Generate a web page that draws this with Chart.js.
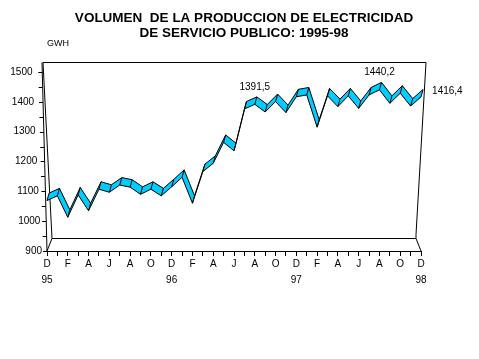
<!DOCTYPE html>
<html>
<head>
<meta charset="utf-8">
<script src="https://cdn.jsdelivr.net/npm/chart.js@4.4.1/dist/chart.umd.min.js"></script>
<style>
  html, body { margin: 0; padding: 0; background: #fff; }
</style>
</head>
<body>
<canvas id="chart" width="479" height="359"></canvas>
<script>
// monthly series, Dec to Dec
const months = ['D','E','F','M','A','M','J','J','A','S','O','N',
                'D','E','F','M','A','M','J','J','A','S','O','N',
                'D','E','F','M','A','M','J','J','A','S','O','N','D'];
const years = ['95', '96', '97', '98'];
const gwh = [1069, 1085, 1013, 1088, 1035, 1107, 1097, 1121, 1114, 1090, 1107, 1085,
             1115, 1147, 1060, 1166, 1194, 1264, 1236, 1376, 1391.5, 1366, 1401, 1364,
             1417, 1423, 1315, 1420, 1384, 1420, 1378, 1423, 1440.2, 1395, 1429, 1386, 1416.4];
const labelled = [20, 32, 36];
const yTicks = [900, 1000, 1100, 1200, 1300, 1400, 1500];

// ribbon depth (3d look): back edge sits higher and a bit to the right
const DEPTH_X = 0.2;
const DEPTH_Y = 25;
const RIBBON = '#00ccff';

Chart.defaults.font.family = 'Liberation Sans, Arial, sans-serif';
Chart.defaults.color = '#000';

const frame3d = {
  id: 'frame3d',
  beforeDatasetsDraw(chart) {
    const {ctx, chartArea: a, scales: {y}} = chart;
    const L = a.left, R = a.right, T = a.top, B = a.bottom;
    const topY = Math.round(T - 10) + 0.5, floorY = Math.round(B - 13) + 0.5;
    const xAt = yy => L - 5 * (B - yy) / (B - topY);
    ctx.save();
    ctx.strokeStyle = '#000';
    ctx.lineWidth = 1;
    ctx.beginPath();
    ctx.moveTo(L - 4, topY); ctx.lineTo(R + 5, topY); ctx.lineTo(R - 5, floorY - 4);
    ctx.lineTo(R - 5, floorY); ctx.lineTo(R, B);
    ctx.moveTo(L + 5, floorY); ctx.lineTo(R - 5, floorY);
    ctx.moveTo(L - 4, topY); ctx.lineTo(L + 5, floorY); ctx.lineTo(L, B);
    ctx.moveTo(L - 5, topY); ctx.lineTo(L, B);
    for (let v = y.min; v <= y.max; v += 50) {
      const yy = Math.round(y.getPixelForValue(v)) + 0.5;
      const x0 = xAt(yy);
      ctx.moveTo(x0 - 4, yy); ctx.lineTo(x0, yy);
    }
    ctx.stroke();

    ctx.font = '10px Liberation Sans, Arial, sans-serif';
    ctx.fillStyle = '#000';
    ctx.textAlign = 'right';
    ctx.textBaseline = 'middle';
    yTicks.forEach(v => {
      const yy = y.getPixelForValue(v);
      ctx.fillText(String(v), L - 5 - 10 * (B - yy) / (B - topY), yy);
    });
    ctx.textAlign = 'left';
    ctx.font = '9px Liberation Sans, Arial, sans-serif';
    ctx.fillText('GWH', L, T - 28);

    // ribbon faces between the front and back edges
    const front = chart.getDatasetMeta(0).data;
    const back = chart.getDatasetMeta(1).data;
    ctx.fillStyle = RIBBON;
    for (let i = 0; i < front.length - 1; i++) {
      ctx.beginPath();
      ctx.moveTo(front[i].x, front[i].y);
      ctx.lineTo(front[i + 1].x, front[i + 1].y);
      ctx.lineTo(back[i + 1].x, back[i + 1].y);
      ctx.lineTo(back[i].x, back[i].y);
      ctx.closePath();
      ctx.fill();
    }
    ctx.restore();
  },
  afterDatasetsDraw(chart) {
    const {ctx} = chart;
    const front = chart.getDatasetMeta(0).data;
    const back = chart.getDatasetMeta(1).data;
    ctx.save();
    ctx.strokeStyle = '#000';
    ctx.lineWidth = 1;
    ctx.beginPath();
    front.forEach((p, i) => {
      ctx.moveTo(p.x, p.y);
      ctx.lineTo(back[i].x, back[i].y);
    });
    ctx.stroke();

    ctx.font = '10px Liberation Sans, Arial, sans-serif';
    ctx.fillStyle = '#000';
    ctx.textBaseline = 'middle';
    labelled.forEach(i => {
      const txt = gwh[i].toFixed(1).replace('.', ',');
      if (i === gwh.length - 1) {
        ctx.textAlign = 'left';
        ctx.fillText(txt, back[i].x + 9, back[i].y + 2);
      } else {
        ctx.textAlign = 'center';
        ctx.fillText(txt, front[i].x, back[i].y - 10);
      }
    });
    ctx.restore();
  }
};

const last = months.length - 1;
const hiddenAxis = {
  display: true,
  min: 900,
  max: 1500,
  ticks: { display: false },
  grid: { display: false },
  border: { display: false }
};

new Chart(document.getElementById('chart'), {
  type: 'line',
  data: {
    datasets: [
      {
        label: 'front',
        data: gwh.map((v, i) => ({x: i, y: v})),
        borderColor: '#000',
        borderWidth: 1,
        pointRadius: 0,
        tension: 0,
        fill: false,
        clip: false
      },
      {
        label: 'back',
        data: gwh.map((v, i) => ({x: i + DEPTH_X, y: v + DEPTH_Y})),
        borderColor: '#000',
        borderWidth: 1,
        pointRadius: 0,
        tension: 0,
        fill: false,
        clip: false
      }
    ]
  },
  options: {
    responsive: false,
    animation: false,
    layout: { padding: { left: 9, right: 0, top: 0, bottom: 0 } },
    plugins: {
      legend: { display: false },
      tooltip: { enabled: false },
      title: {
        display: true,
        text: ['VOLUMEN  DE LA PRODUCCION DE ELECTRICIDAD', 'DE SERVICIO PUBLICO: 1995-98'],
        font: { size: 13.5, weight: 'bold', lineHeight: 1.17 },
        color: '#000',
        padding: { top: 10, bottom: 30.4 }
      }
    },
    scales: {
      x: {
        type: 'linear',
        min: 0,
        max: last,
        afterFit: s => { s.height = 108; },
        border: { display: true, color: '#000' },
        grid: { drawOnChartArea: false, drawTicks: true, tickLength: 5, color: '#000' },
        ticks: {
          stepSize: 1,
          maxTicksLimit: 100,
          autoSkip: false,
          maxRotation: 0,
          padding: 0,
          font: { size: 10, lineHeight: 1.6 },
          callback: v => {
            if (v % 2 !== 0) return '';
            if (v % 12 === 0) return [months[v], years[v / 12]];
            return months[v];
          }
        }
      },
      y: { ...hiddenAxis, position: 'left', afterFit: s => { s.width = 38; } },
      yRight: { ...hiddenAxis, position: 'right', afterFit: s => { s.width = 58; } }
    }
  },
  plugins: [frame3d]
});
</script>
</body>
</html>
